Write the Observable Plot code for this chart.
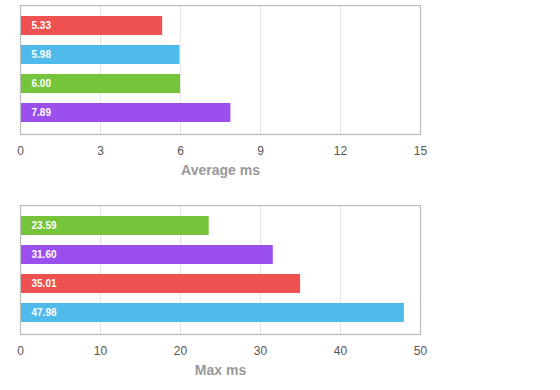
<!DOCTYPE html>
<html>
<head>
<meta charset="utf-8">
<script src="https://cdn.jsdelivr.net/npm/d3@7"></script>
<script src="https://cdn.jsdelivr.net/npm/@observablehq/plot@0.6"></script>
<style>
  body { margin: 0; background: #fff; font-family: "Liberation Sans", Arial, sans-serif; }
  #root svg { display: block; }
</style>
</head>
<body>
<div id="root"></div>
<script>
const series = ["A", "B", "C", "D"];
const seriesColors = ["#ef5050", "#4fbbeb", "#76c43b", "#9b4fec"];
const avgMs = [5.33, 5.98, 6.00, 7.89];
const maxMs = [35.01, 47.98, 23.59, 31.60];
const avgTicks = [0, 3, 6, 9, 12, 15];
const maxTicks = [0, 10, 20, 30, 40, 50];

function chart(values, ticks, label) {
  const data = series.map((s, i) => ({name: s, value: values[i]}));
  const order = data.slice().sort((a, b) => a.value - b.value).map(d => d.name);
  return Plot.plot({
    width: 560,
    height: 200,
    marginTop: 5,
    marginBottom: 66,
    marginLeft: 20,
    marginRight: 140,
    style: {fontFamily: "'Liberation Sans', Arial, sans-serif", background: "#fff"},
    x: {domain: [ticks[0], ticks[ticks.length - 1]]},
    y: {domain: order, paddingInner: 1/3, paddingOuter: 1/3, axis: null},
    color: {domain: series, range: seriesColors},
    marks: [
      Plot.gridX(ticks, {stroke: "#e6e6e6", strokeOpacity: 1}),
      Plot.barX(data, {y: "name", x: "value", fill: "name", insetLeft: 1}),
      Plot.text(data, {y: "name", x: 0, text: d => d.value.toFixed(2), dx: 11, textAnchor: "start", fill: "#fff", fontSize: 10, fontWeight: "bold"}),
      Plot.frame({stroke: "#bbbbbb", strokeWidth: 1.2}),
      Plot.axisX(ticks, {tickSize: 0, tickPadding: 12, fontSize: 12, color: "#555", fill: "#555",
        label: label, labelAnchor: "center", labelOffset: 40, labelArrow: "none"})
    ]
  });
}

const root = document.getElementById("root");
root.appendChild(chart(avgMs, avgTicks, "Average ms"));
root.appendChild(chart(maxMs, maxTicks, "Max ms"));
// style axis labels
root.querySelectorAll("svg").forEach(svg => {
  svg.querySelectorAll("g[aria-label='x-axis label'] text").forEach(t => {
    t.textContent = t.textContent.replace(/\s*[→←↑↓]\s*/g, "").trim();
    t.setAttribute("fill", "#999");
    t.setAttribute("font-weight", "bold");
    t.setAttribute("font-size", "14");
  });
});
</script>
</body>
</html>
